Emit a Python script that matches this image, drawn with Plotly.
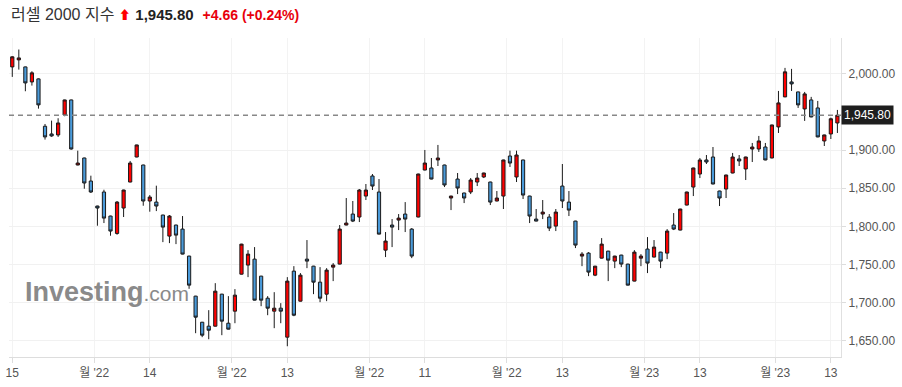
import plotly.graph_objects as go

opens = [2009.1, 2018.3, 2009.1, 1989.4, 1993.4, 1931.3, 1921.2, 1919.9, 1946.1, 1965.8,
         1880.5, 1889.7, 1859.5, 1826.7, 1845.1, 1813.6, 1790.8, 1824.1, 1858.2, 1891.0,
         1880.5, 1833.3, 1831.9, 1814.9, 1787.3, 1801.8, 1796.5, 1761.1, 1708.6, 1674.4,
         1669.2, 1669.2, 1711.2, 1673.1, 1688.9, 1737.4, 1749.3, 1757.1, 1734.8, 1705.9,
         1688.9, 1692.8, 1654.8, 1741.4, 1702.0, 1757.1, 1747.9, 1726.9, 1711.2, 1746.6,
         1750.6, 1801.8, 1816.2, 1812.3, 1839.8, 1866.1, 1845.1, 1768.9, 1801.8, 1808.3,
         1816.2, 1796.5, 1812.3, 1873.9, 1876.6, 1887.1, 1880.5, 1837.2, 1862.1, 1843.8,
         1845.1, 1858.2, 1864.8, 1858.2, 1833.3, 1839.8, 1892.3, 1864.8, 1887.1, 1839.8,
         1809.6, 1816.2, 1812.3, 1800.4, 1852.9, 1831.9, 1807.0, 1761.1, 1765.0, 1736.1,
         1758.4, 1767.6, 1754.5, 1762.4, 1750.6, 1728.3, 1758.4, 1770.3, 1759.8, 1766.3,
         1765.0, 1801.8, 1795.2, 1828.0, 1851.6, 1868.7, 1887.1, 1891.0, 1846.4, 1849.0,
         1870.0, 1888.4, 1875.3, 1901.5, 1901.5, 1904.1, 1889.7, 1930.4, 1969.8, 1989.4,
         1976.3, 1954.0, 1965.8, 1955.3, 1912.0, 1921.2, 1935.6]

highs = [2023.1, 2031.9, 2009.5, 2003.4, 1994.0, 1934.3, 1938.7, 1941.8, 1966.2, 1966.2,
         1899.3, 1890.1, 1866.5, 1827.1, 1848.1, 1814.0, 1833.3, 1848.1, 1885.8, 1907.1,
         1880.9, 1841.1, 1853.4, 1815.3, 1814.9, 1802.2, 1813.6, 1761.5, 1709.0, 1674.8,
         1690.2, 1725.6, 1711.6, 1708.6, 1717.8, 1777.2, 1768.9, 1772.9, 1735.2, 1708.6,
         1713.8, 1699.4, 1733.5, 1747.9, 1738.8, 1782.1, 1748.3, 1746.6, 1745.3, 1751.9,
         1801.8, 1837.2, 1833.3, 1849.0, 1855.6, 1868.7, 1862.1, 1792.6, 1809.6, 1816.2,
         1831.9, 1797.8, 1869.1, 1900.2, 1889.7, 1906.8, 1880.9, 1840.2, 1870.0, 1844.2,
         1863.4, 1870.0, 1870.4, 1858.6, 1846.4, 1887.5, 1899.3, 1899.3, 1887.5, 1840.2,
         1822.8, 1834.6, 1816.2, 1822.8, 1881.8, 1846.4, 1807.4, 1766.3, 1766.3, 1748.3,
         1784.7, 1768.0, 1761.5, 1762.8, 1751.0, 1768.9, 1763.7, 1786.0, 1782.1, 1766.7,
         1796.5, 1817.5, 1823.1, 1845.5, 1877.0, 1889.7, 1893.6, 1904.1, 1846.8, 1867.8,
         1896.3, 1893.6, 1891.4, 1909.4, 1918.6, 1909.4, 1933.4, 1977.6, 2007.8, 2006.5,
         1976.7, 1976.3, 1969.8, 1964.5, 1920.3, 1942.6, 1952.7]

lows = [1996.0, 2005.6, 1977.2, 1984.6, 1954.4, 1913.8, 1917.5, 1917.3, 1944.4, 1900.6,
        1880.1, 1849.4, 1843.8, 1800.9, 1804.4, 1787.8, 1789.1, 1812.3, 1857.8, 1890.6,
        1827.1, 1819.3, 1820.1, 1779.4, 1778.1, 1776.8, 1763.3, 1718.2, 1660.0, 1654.8,
        1652.1, 1668.8, 1657.4, 1664.9, 1673.1, 1737.0, 1733.5, 1702.9, 1695.4, 1683.6,
        1666.6, 1673.1, 1642.9, 1682.3, 1701.6, 1745.3, 1711.2, 1700.7, 1702.0, 1728.3,
        1750.2, 1801.4, 1805.7, 1805.7, 1834.6, 1847.7, 1789.5, 1759.8, 1772.9, 1795.2,
        1792.6, 1758.4, 1811.9, 1873.5, 1861.7, 1879.2, 1851.6, 1821.4, 1842.4, 1830.6,
        1842.4, 1852.9, 1863.4, 1828.0, 1832.9, 1822.8, 1877.9, 1858.2, 1835.9, 1804.4,
        1806.6, 1809.6, 1793.9, 1793.9, 1824.1, 1813.6, 1771.6, 1747.9, 1734.8, 1734.8,
        1758.0, 1728.3, 1745.3, 1746.6, 1722.6, 1727.9, 1747.9, 1738.8, 1759.4, 1745.3,
        1757.1, 1795.2, 1794.8, 1827.6, 1839.8, 1863.4, 1881.8, 1855.2, 1826.7, 1837.2,
        1869.6, 1879.2, 1860.8, 1884.4, 1897.6, 1886.7, 1889.3, 1922.5, 1969.4, 1977.6,
        1955.3, 1938.3, 1943.1, 1916.9, 1905.4, 1914.6, 1922.5]

closes = [2022.3, 2020.9, 1988.1, 2001.3, 1959.3, 1917.3, 1918.6, 1935.6, 1965.8, 1901.5,
          1883.1, 1856.9, 1845.1, 1824.1, 1810.9, 1793.9, 1831.9, 1847.7, 1883.1, 1906.8,
          1833.3, 1838.5, 1826.7, 1799.1, 1813.6, 1788.6, 1763.7, 1723.0, 1681.0, 1657.4,
          1663.9, 1715.1, 1675.8, 1665.3, 1709.9, 1776.8, 1763.7, 1703.3, 1703.3, 1692.8,
          1692.8, 1688.9, 1728.3, 1683.6, 1736.1, 1754.5, 1726.9, 1705.9, 1742.7, 1749.3,
          1796.5, 1804.4, 1807.0, 1847.7, 1847.7, 1852.9, 1789.9, 1780.8, 1799.1, 1810.9,
          1809.6, 1761.1, 1868.7, 1883.1, 1862.1, 1889.7, 1854.3, 1839.8, 1850.3, 1837.2,
          1860.8, 1863.4, 1870.0, 1831.9, 1837.2, 1887.1, 1883.1, 1893.6, 1841.1, 1813.6,
          1807.0, 1818.8, 1797.8, 1818.8, 1833.3, 1821.4, 1775.5, 1763.7, 1740.1, 1747.9,
          1776.8, 1755.8, 1761.1, 1750.6, 1723.0, 1766.3, 1761.1, 1751.9, 1772.9, 1754.5,
          1793.9, 1796.5, 1822.8, 1845.1, 1876.6, 1887.1, 1884.4, 1855.6, 1837.2, 1867.4,
          1891.0, 1885.8, 1891.0, 1904.1, 1912.0, 1887.1, 1933.0, 1961.9, 2002.6, 1986.8,
          1959.3, 1973.7, 1943.5, 1917.3, 1919.9, 1941.1, 1945.8]

x_tick_pos = [0, 12.5, 21, 33.5, 42, 54.5, 63, 75.5, 84, 96.5, 105, 116.5, 125]
x_tick_labels = ["15", "월 '22", "14", "월 '22", "13", "월 '22", "11", "월 '22",
                 "13", "월 '23", "13", "월 '23", "13"]
y_ticks = [1650, 1700, 1750, 1800, 1850, 1900, 2000]

last_price = 1945.80
title_name = "러셀 2000 지수"
change_text = "+4.66 (+0.24%)"

idx = list(range(len(opens)))

RED = "#ff0000"
BLUE = "#4a9ad9"

fig = go.Figure()
fig.add_trace(go.Candlestick(
    x=idx, open=opens, high=highs, low=lows, close=closes,
    increasing=dict(fillcolor=RED, line=dict(color="#1a1a1a", width=1)),
    decreasing=dict(fillcolor=BLUE, line=dict(color="#1a1a1a", width=1)),
    whiskerwidth=0, showlegend=False, hoverinfo="skip",
))

fig.add_shape(type="line", xref="paper", x0=0, x1=1, yref="y",
              y0=last_price, y1=last_price,
              line=dict(color="#888888", width=1.5, dash="5px,4px"))

fig.add_annotation(xref="paper", x=1, yref="y", y=last_price, xanchor="left",
                   yanchor="middle", text=f"{last_price:,.2f}", showarrow=False,
                   bgcolor="#1e1e1e", borderpad=2,
                   font=dict(color="white", size=12, family="Liberation Sans, Arial"))

title_html = (f"<span style='color:#333'>{title_name}</span> "
              f"<span style='color:{RED};font-size:12px'>⬆</span> "
              f"<b><span style='color:#222;font-size:15px'>{last_price:,.2f}</span></b>  "
              f"<b><span style='color:#e8000b;font-size:14px'>{change_text}</span></b>")
fig.add_annotation(xref="paper", yref="paper", x=(9 - 9) / 832, y=(357 - 15) / 319,
                   xanchor="left", yanchor="middle", text=title_html, showarrow=False,
                   font=dict(size=16, family="Liberation Sans, Noto Sans CJK KR"))

fig.add_annotation(xref="paper", yref="paper", x=(23 - 9) / 832, y=(357 - 292) / 319,
                   xanchor="left", yanchor="middle", showarrow=False,
                   text="<b>Investing</b><span style='font-size:21px'>.com</span>",
                   font=dict(size=27, color="#8a8a8a", family="Liberation Sans, Arial"))

fig.update_layout(
    width=902, height=387,
    margin=dict(l=9, r=61, t=38, b=30, autoexpand=False),
    paper_bgcolor="white", plot_bgcolor="white",
    font=dict(family="Liberation Sans, Noto Sans CJK KR", color="#555", size=12),
    xaxis=dict(range=[-0.5, 126.55], rangeslider=dict(visible=False), automargin=False,
               tickmode="array", tickvals=x_tick_pos, ticktext=x_tick_labels,
               showgrid=True, gridcolor="#f3f3f3", zeroline=False,
               showline=True, linecolor="#dddddd", ticks="outside", ticklen=5,
               tickcolor="#dddddd", tickfont=dict(size=12, color="#555")),
    yaxis=dict(range=[1628.8, 2047], side="right", tickmode="array", automargin=False,
               tickvals=y_ticks, tickformat=",.2f", showgrid=True,
               gridcolor="#f1f1f1", zeroline=False, showline=True,
               linecolor="#e0e0e0", ticks="outside", ticklen=4,
               tickcolor="#dddddd", tickfont=dict(size=12, color="#555")),
)

fig.write_html("out.html", config={"displayModeBar": False},
               post_script="document.body.style.margin='0';document.body.style.padding='0';")
